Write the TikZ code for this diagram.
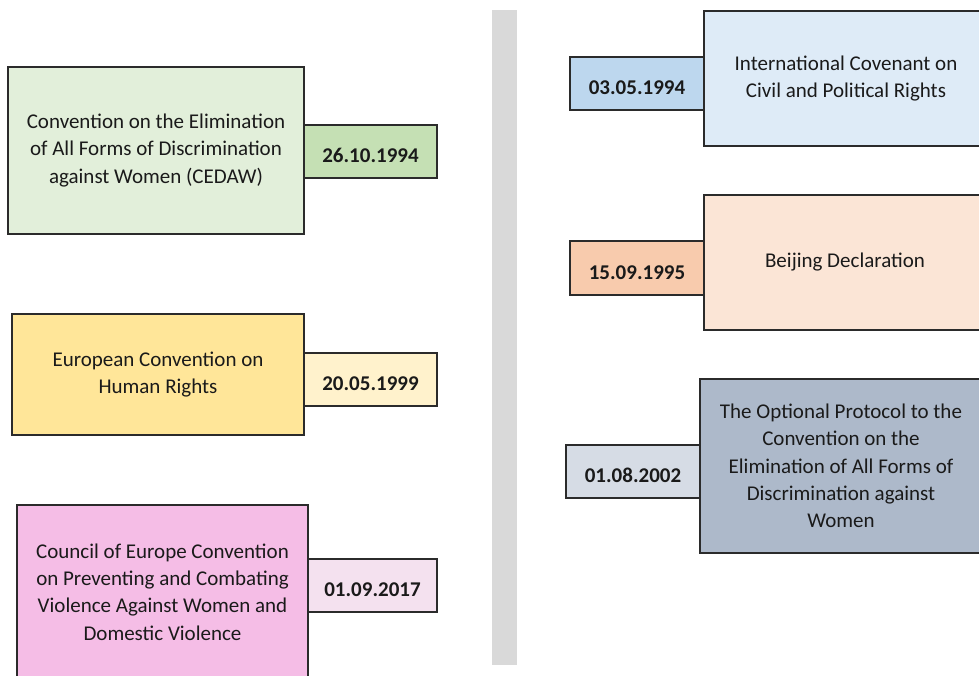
\documentclass[tikz,border=0pt]{standalone}
\usepackage{fontspec}
\setmainfont{Carlito}
\definecolor{bordercol}{HTML}{2B2B2B}
\definecolor{barcol}{HTML}{D9D9D9}
\definecolor{txt}{HTML}{1A1A1A}
\definecolor{gBig}{HTML}{E2EFDA}
\definecolor{gDate}{HTML}{C5E0B4}
\definecolor{yBig}{HTML}{FFE699}
\definecolor{yDate}{HTML}{FFF2CC}
\definecolor{pBig}{HTML}{F5BDE6}
\definecolor{pDate}{HTML}{F4E1EF}
\definecolor{bBig}{HTML}{DEEBF7}
\definecolor{bDate}{HTML}{BDD7EE}
\definecolor{oBig}{HTML}{FBE5D6}
\definecolor{oDate}{HTML}{F8CBAD}
\definecolor{sBig}{HTML}{ADB9CA}
\definecolor{sDate}{HTML}{D6DCE5}
\newcommand{\mybox}[8]{%
  \node[#1, fill=#7, minimum width={#5-#3}, minimum height={#6-#4}] (#2) at ({(#3+#5)/2},{(#4+#6)/2}) {#8};}
\begin{document}
\begin{tikzpicture}[x=1pt,y=-1pt,
  bigbox/.style={draw=bordercol, line width=1.2pt, inner sep=0pt, outer sep=0pt, align=center, text=txt, font=\fontsize{21}{27.3}\selectfont},
  datebox/.style={bigbox, text height=22pt, text depth=0pt, font=\bfseries\fontsize{21}{27.3}\selectfont}]
\useasboundingbox (0,0) rectangle (979,675);
\clip (0,0) rectangle (979,675);
\fill[barcol] (492,10) rectangle (517,665);
% left column
\mybox{bigbox}{cedaw}{8}{67}{304}{234}{gBig}{Convention on the Elimination\\of All Forms of Discrimination\\against Women (CEDAW)}
\mybox{datebox}{dcedaw}{304}{125}{437}{178}{gDate}{26.10.1994}
\mybox{bigbox}{echr}{12}{314}{304}{435}{yBig}{European Convention on\\Human Rights}
\mybox{datebox}{dechr}{304}{353}{437}{406}{yDate}{20.05.1999}
\mybox{bigbox}{coe}{17}{505}{308}{679}{pBig}{Council of Europe Convention\\on Preventing and Combating\\Violence Against Women and\\Domestic Violence}
\mybox{datebox}{dcoe}{308}{559}{437}{612}{pDate}{01.09.2017}
% right column
\mybox{bigbox}{iccpr}{704}{11}{988}{146}{bBig}{International Covenant on\\Civil and Political Rights}
\mybox{datebox}{diccpr}{570}{57}{704}{110}{bDate}{03.05.1994}
\mybox{bigbox}{beij}{704}{195}{986}{330}{oBig}{Beijing Declaration}
\mybox{datebox}{dbeij}{570}{241}{704}{295}{oDate}{15.09.1995}
\mybox{bigbox}{opt}{700}{379}{982}{553}{sBig}{The Optional Protocol to the\\Convention on the\\Elimination of All Forms of\\Discrimination against\\Women}
\mybox{datebox}{dopt}{566}{445}{700}{498}{sDate}{01.08.2002}
\end{tikzpicture}
\end{document}
